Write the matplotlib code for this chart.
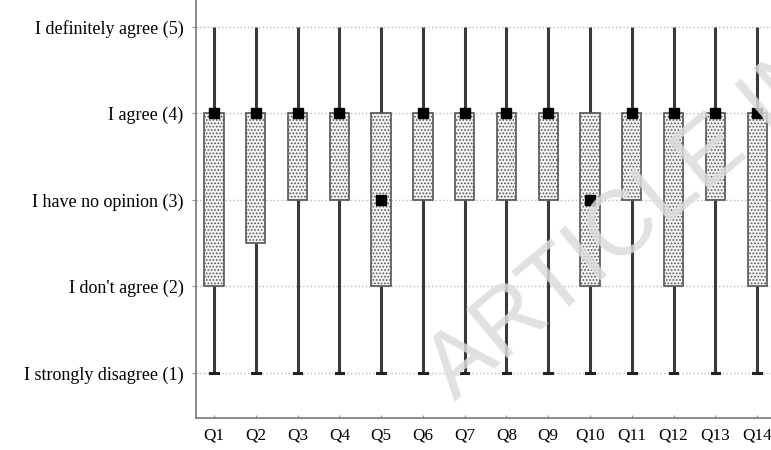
import numpy as np
import matplotlib.pyplot as plt
from matplotlib.patches import Rectangle

questions = ['Q1', 'Q2', 'Q3', 'Q4', 'Q5', 'Q6', 'Q7', 'Q8', 'Q9', 'Q10', 'Q11', 'Q12', 'Q13', 'Q14']
whisk_lo = [1, 1, 1, 1, 1, 1, 1, 1, 1, 1, 1, 1, 1, 1]
box_lo = [2, 2.5, 3, 3, 2, 3, 3, 3, 3, 2, 3, 2, 3, 2]
median = [4, 4, 4, 4, 3, 4, 4, 4, 4, 3, 4, 4, 4, 4]
box_hi = [4, 4, 4, 4, 4, 4, 4, 4, 4, 4, 4, 4, 4, 4]
whisk_hi = [5, 5, 5, 5, 5, 5, 5, 5, 5, 5, 5, 5, 5, 5]
levels = [1, 2, 3, 4, 5]
level_labels = ["I strongly disagree (1)", "I don't agree (2)", "I have no opinion (3)",
                "I agree (4)", "I definitely agree (5)"]

plt.rcParams['font.family'] = ['Liberation Serif', 'DejaVu Serif']
plt.rcParams['hatch.color'] = '#9a9a9a'
plt.rcParams['hatch.linewidth'] = 0.8

fig = plt.figure(figsize=(7.71, 4.5), dpi=100)
ax = fig.add_axes([196 / 771, 32 / 450, 1 - 196 / 771 + 0.02, 1 - 32 / 450])

xs = np.arange(1, len(questions) + 1)
bw = 0.46
for x, wl, bl, m, bh, wh in zip(xs, whisk_lo, box_lo, median, box_hi, whisk_hi):
    # whiskers
    ax.plot([x, x], [wl, bl], color='#3a3a3a', lw=2.2, zorder=2, solid_capstyle='butt')
    ax.plot([x, x], [bh, wh], color='#3a3a3a', lw=2.2, zorder=2, solid_capstyle='butt')
    ax.plot([x - 0.09, x + 0.09], [wl, wl], color='#222222', lw=2.2, zorder=2)
    # box
    ax.add_patch(Rectangle((x - bw / 2, bl), bw, bh - bl, facecolor='#f4f4f4',
                           edgecolor='#555555', lw=1.2, hatch='.....', zorder=3))
    ax.plot(x, m, marker='s', ms=7, color='black', zorder=4)

ax.set_xlim(0.57, 14.7)
ax.set_ylim(0.48, 5.31)
ax.set_xticks(xs)
ax.set_xticklabels(questions, fontsize=12.3)
ax.set_yticks(levels)
ax.set_yticklabels(level_labels, fontsize=13)
ax.tick_params(axis='x', direction='in', length=2, color='#999999', pad=7)
ax.tick_params(axis='y', direction='out', length=3, color='#999999', pad=6)
ax.grid(axis='y', linestyle=':', color='#bbbbbb', lw=1)
ax.set_axisbelow(True)
for s in ['top', 'right']:
    ax.spines[s].set_visible(False)
for s in ['left', 'bottom']:
    ax.spines[s].set_color('#777777')
    ax.spines[s].set_linewidth(1.2)

fig.text(455 / 771, 1 - 402 / 450, 'ARTICLE IN PRESS', fontsize=66, family='Liberation Sans',
         color='#dcdcdc', alpha=0.85, rotation=40, rotation_mode='anchor',
         ha='left', va='baseline', zorder=10)

fig.savefig('out.png', dpi=100)
